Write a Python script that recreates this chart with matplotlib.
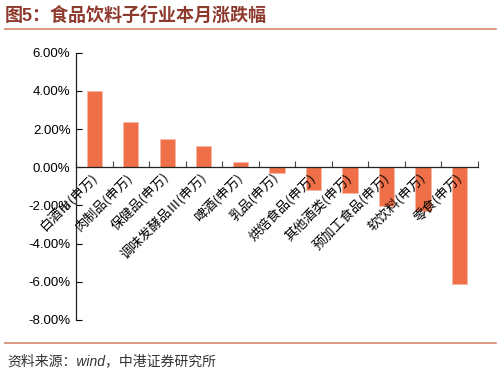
import matplotlib.pyplot as plt
from matplotlib.ticker import FuncFormatter, MultipleLocator
import numpy as np

plt.rcParams['font.family'] = ['Liberation Sans', 'Noto Sans CJK SC', 'DejaVu Sans']

# 数据
categorias = ['白酒Ⅲ(申万)', '肉制品(申万)', '保健品(申万)', '调味发酵品Ⅲ(申万)',
              '啤酒(申万)', '乳品(申万)', '烘焙食品(申万)', '其他酒类(申万)',
              '预加工食品(申万)', '软饮料(申万)', '零食(申万)']
cambios = [4.00, 2.35, 1.48, 1.10, 0.30, -0.28, -1.20, -1.37, -2.03, -2.28, -6.10]

titulo = '图5：食品饮料子行业本月涨跌幅'
fuente = '资料来源：wind，中港证券研究所'

color_barra = '#EE6F48'
color_titulo = '#8E3A2E'
color_linea = '#D4866C'

fig = plt.figure(figsize=(5.01, 3.72), dpi=100)
ax = fig.add_axes([0.1517, 0.1398, 0.8018, 0.7185])

x = np.arange(len(categorias))
# barras debajo de las etiquetas (el eje se dibuja encima)
ax.bar(x, cambios, width=0.42, color=color_barra, edgecolor='#F6B9A4', linewidth=0.6, zorder=1)
ax.set_axisbelow(False)

ax.set_xlim(-0.5, len(categorias) - 0.5)
ax.set_ylim(-8, 6)
ax.yaxis.set_major_locator(MultipleLocator(2))
ax.yaxis.set_major_formatter(FuncFormatter(lambda v, p: f'{v:.2f}%'))

ax.spines['top'].set_visible(False)
ax.spines['right'].set_visible(False)
ax.spines['bottom'].set_position(('data', 0))
for s in ['left', 'bottom']:
    ax.spines[s].set_color('#222222')
    ax.spines[s].set_linewidth(0.9)
    ax.spines[s].set_zorder(3)

ax.set_xticks(x)
ax.set_xticklabels(categorias, rotation=45, ha='right', va='center',
                   rotation_mode='anchor', fontsize=9.5,
                   family=['Noto Sans CJK SC', 'DejaVu Sans'])
ax.tick_params(axis='x', which='major', length=0, pad=6)
ax.set_xticks(np.arange(-0.5, len(categorias), 1.0), minor=True)
ax.tick_params(axis='x', which='minor', direction='in', length=4, width=0.8, color='#444444')
ax.tick_params(axis='y', direction='in', length=4, width=0.8, labelsize=9.5, pad=4)

# título y líneas
fig.text(0.01, 0.957, titulo, color=color_titulo, fontsize=13, fontweight='bold',
         ha='left', va='center')
fig.add_artist(plt.Line2D([0.01, 0.99], [0.921, 0.921], color=color_linea, linewidth=1.2))
fig.add_artist(plt.Line2D([0.01, 0.99], [0.079, 0.079], color=color_linea, linewidth=1.2))
fig.text(0.015, 0.03, fuente, fontsize=10, style='italic', color='#333333',
         ha='left', va='center')

plt.savefig('out.png', dpi=100)
